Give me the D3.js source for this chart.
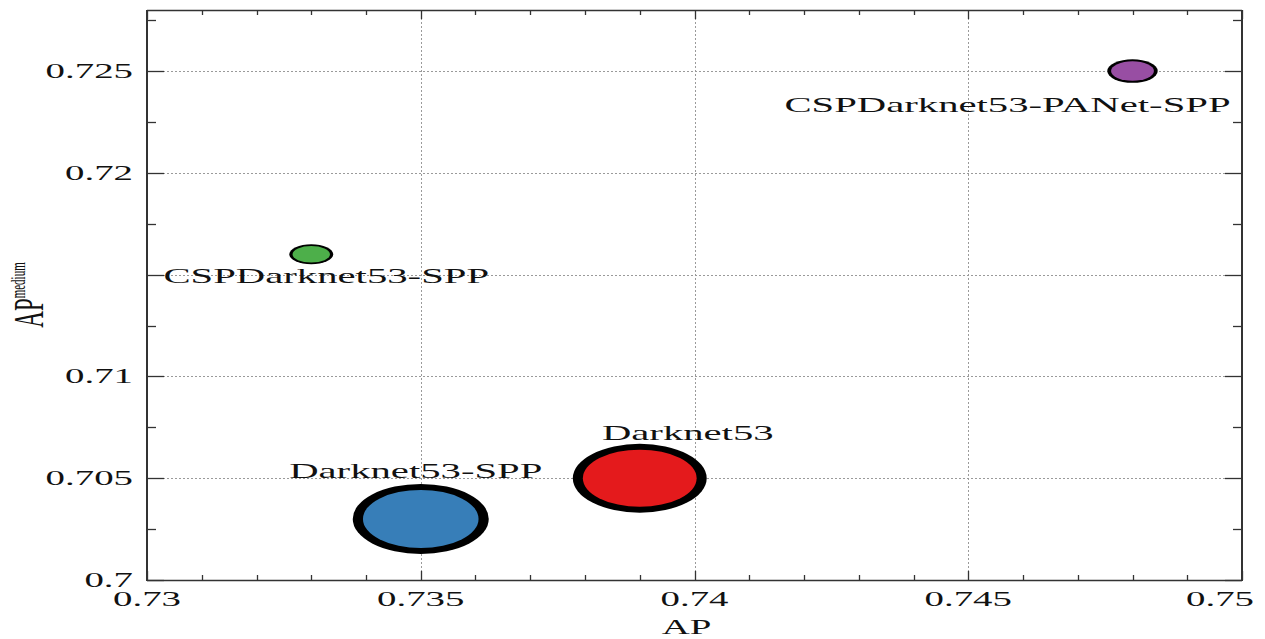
<!DOCTYPE html>
<html>
<head>
<meta charset="utf-8">
<script src="https://cdn.jsdelivr.net/npm/d3@7"></script>
<style>
  html, body { margin: 0; padding: 0; background: #fff; }
  svg { display: block; }
  text { font-family: "Liberation Serif", "Times New Roman", serif; fill: #111; }
</style>
</head>
<body>
<svg id="chart" width="1265" height="639"></svg>
<script>
// Detector backbones: AP vs AP(medium), bubble area ~ model cost
const models = ["Darknet53-SPP", "Darknet53", "CSPDarknet53-SPP", "CSPDarknet53-PANet-SPP"];
const apValues = [0.735, 0.739, 0.733, 0.748];
const apMediumValues = [0.703, 0.705, 0.716, 0.725];
const bubbleSize = [3.0, 2.95, 0.85, 1.0];
const fillColors = ["#377eb8", "#e41a1c", "#4daf4a", "#984ea3"];

const xTickValues = [0.73, 0.735, 0.74, 0.745, 0.75];
const xTickLabels = ["0.73", "0.735", "0.74", "0.745", "0.75"];
const yTickValues = [0.7, 0.705, 0.71, 0.715, 0.72, 0.725];
const yTickLabels = ["0.7", "0.705", "0.71", "", "0.72", "0.725"];

const svg = d3.select("#chart");
const plot = { left: 147, right: 1242, top: 10, bottom: 580 };
const stretch = 1.85; // horizontal text stretch of the figure

const x = d3.scaleLinear().domain([0.73, 0.75]).range([plot.left, plot.right]);
const y = d3.scaleLinear().domain([0.7, 0.728]).range([plot.bottom, plot.top]);
const rxScale = d3.scaleLinear().domain([0.85, 3.0]).range([22, 68]);
const ryScale = d3.scaleLinear().domain([0.85, 3.0]).range([10, 35]);

// grid
const grid = svg.append("g").attr("stroke", "#9a9a9a").attr("stroke-width", 1)
  .attr("stroke-dasharray", "2,2").attr("fill", "none");
grid.selectAll("line.vx").data(xTickValues.filter(v => v > 0.73 && v < 0.75)).join("line")
  .attr("x1", d => Math.round(x(d)) + 0.5).attr("x2", d => Math.round(x(d)) + 0.5)
  .attr("y1", plot.top).attr("y2", plot.bottom);
grid.selectAll("line.hy").data(yTickValues.filter(v => v > 0.7)).join("line")
  .attr("y1", d => Math.round(y(d)) + 0.5).attr("y2", d => Math.round(y(d)) + 0.5)
  .attr("x1", plot.left).attr("x2", plot.right);

// ticks (inward, on all four sides)
const xMinor = d3.range(0.731, 0.7495, 0.001).filter(v => !xTickValues.some(t => Math.abs(t - v) < 1e-6));
const yMinor = d3.range(0.7025, 0.728, 0.005);
const ticks = svg.append("g").attr("stroke", "#333").attr("stroke-width", 1.3);
function xTick(vals, len) {
  vals.forEach(v => {
    const px = Math.round(x(v)) + 0.5;
    ticks.append("line").attr("x1", px).attr("x2", px).attr("y1", plot.bottom).attr("y2", plot.bottom - len);
    ticks.append("line").attr("x1", px).attr("x2", px).attr("y1", plot.top).attr("y2", plot.top + len);
  });
}
function yTick(vals, len) {
  vals.forEach(v => {
    const py = Math.round(y(v)) + 0.5;
    ticks.append("line").attr("x1", plot.left).attr("x2", plot.left + len).attr("y1", py).attr("y2", py);
    ticks.append("line").attr("x1", plot.right).attr("x2", plot.right - len).attr("y1", py).attr("y2", py);
  });
}
xTick(xTickValues, 9);
xTick(xMinor, 5);
yTick(yTickValues, 17);
yTick(yMinor, 9);

// frame
svg.append("line").attr("x1", plot.left).attr("x2", plot.right).attr("y1", plot.bottom + 0.5).attr("y2", plot.bottom + 0.5)
  .attr("stroke", "#333").attr("stroke-width", 1.4);
svg.append("line").attr("x1", plot.left).attr("x2", plot.right).attr("y1", plot.top + 0.5).attr("y2", plot.top + 0.5)
  .attr("stroke", "#333").attr("stroke-width", 1.4);
svg.append("line").attr("x1", plot.left).attr("x2", plot.left).attr("y1", plot.top).attr("y2", plot.bottom + 1)
  .attr("stroke", "#333").attr("stroke-width", 2);
svg.append("line").attr("x1", plot.right).attr("x2", plot.right).attr("y1", plot.top).attr("y2", plot.bottom + 1)
  .attr("stroke", "#333").attr("stroke-width", 2);

// tick labels (the last x label is pulled in so it stays on the page)
xTickValues.forEach((v, i) => {
  const last = i === xTickValues.length - 1;
  svg.append("text").attr("transform", `translate(${last ? 1254 : x(v)},606) scale(${stretch},1)`)
    .attr("text-anchor", last ? "end" : "middle").attr("font-size", 21).text(xTickLabels[i]);
});
yTickValues.forEach((v, i) => {
  if (!yTickLabels[i]) return;
  svg.append("text").attr("transform", `translate(133,${y(v) + 7}) scale(${stretch},1)`)
    .attr("text-anchor", "end").attr("font-size", 21).text(yTickLabels[i]);
});

// axis titles
svg.append("text").attr("transform", `translate(${(plot.left + plot.right) / 2 - 8},634) scale(${stretch},1)`)
  .attr("text-anchor", "middle").attr("font-size", 21).text("AP");
const yt = svg.append("text").attr("transform", `translate(43,${(plot.top + plot.bottom) / 2}) scale(${stretch},1) rotate(-90)`)
  .attr("text-anchor", "middle");
yt.append("tspan").attr("font-size", 23).text("AP");
yt.append("tspan").attr("font-size", 11).attr("dy", -10).text("medium");

// bubbles: black ring with coloured core
const pts = models.map((m, i) => ({
  name: m, ap: apValues[i], apm: apMediumValues[i], s: bubbleSize[i], color: fillColors[i]
}));
const bubbles = svg.append("g");
pts.forEach(d => {
  const cx = x(d.ap), cy = y(d.apm);
  const rx = rxScale(d.s), ry = ryScale(d.s);
  const bx = rx * 0.15, by = ry * 0.17;
  bubbles.append("ellipse").attr("cx", cx).attr("cy", cy).attr("rx", rx).attr("ry", ry).attr("fill", "#000");
  bubbles.append("ellipse").attr("cx", cx).attr("cy", cy).attr("rx", rx - bx).attr("ry", ry - by).attr("fill", d.color);
});

// point labels, placed relative to each bubble
const labelOffset = {
  "Darknet53-SPP": { dx: -5, dy: -41 },
  "Darknet53": { dx: 48, dy: -38 },
  "CSPDarknet53-SPP": { dx: 15, dy: 29 },
  "CSPDarknet53-PANet-SPP": { dx: -125, dy: 41 }
};
pts.forEach(d => {
  const o = labelOffset[d.name];
  svg.append("text")
    .attr("transform", `translate(${x(d.ap) + o.dx},${y(d.apm) + o.dy}) scale(${stretch},1)`)
    .attr("text-anchor", "middle").attr("font-size", 22).text(d.name);
});
</script>
</body>
</html>
